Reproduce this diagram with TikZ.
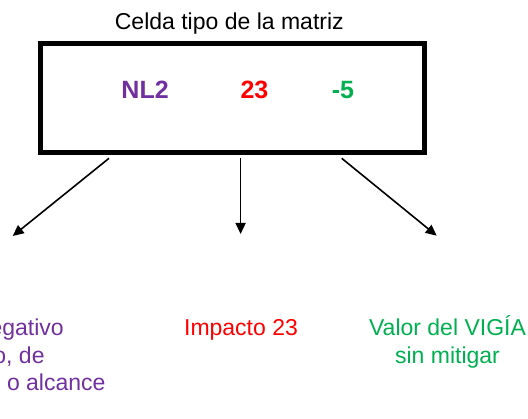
\documentclass[tikz,border=0pt]{standalone}
\usepackage{fontspec}
\setmainfont{Liberation Sans}
\usetikzlibrary{arrows.meta}
\definecolor{morado}{RGB}{112,48,160}
\definecolor{rojo}{RGB}{255,0,0}
\definecolor{verde}{RGB}{0,176,80}
\begin{document}
\begin{tikzpicture}[x=1pt, y=-1pt,
    txt/.style={font=\fontsize{23}{27.3}\selectfont, inner sep=0pt, anchor=base},
    valor/.style={font=\fontsize{25}{30}\selectfont\bfseries, inner sep=0pt, anchor=base},
    flecha/.style={line width=1.6pt, -{Triangle[length=11pt,width=10pt]}}]
    \path[use as bounding box] (0,0) rectangle (528,419);
    \clip (0,0) rectangle (528,419);
    % celda de la matriz
    \node[draw, line width=5pt, minimum width=384.5pt, minimum height=109.5pt, inner sep=0pt] (celda) at (232.25,98.25) {};
    \node[txt] (titulo) at (229.3,29.3) {Celda tipo de la matriz};
    \node[valor, text=morado] (nl) at (145.1,99) {NL2};
    \node[valor, text=rojo] (imp) at (254.5,99) {23};
    \node[valor, text=verde] (vig) at (342.9,99) {-5};
    % textos de abajo
    \node[txt, anchor=base east, text=morado] (nla) at (64,336) {egativo};
    \node[txt, anchor=base east, text=morado] (nlb) at (44.8,363.3) {o, de};
    \node[txt, anchor=base east, text=morado] (nlc) at (105.7,390.6) {o alcance};
    \node[txt, text=rojo] (impt) at (241,336) {Impacto 23};
    \node[txt, text=verde, align=center] (vigt) at (447.5,363.3) {Valor del VIGÍA\\sin mitigar};
    % flechas
    \coordinate (s1) at (109,158.3); \coordinate (e1) at (12.7,236);
    \coordinate (s2) at (240.6,158); \coordinate (e2) at (240.6,234);
    \coordinate (s3) at (341.7,158.3); \coordinate (e3) at (436.7,235.7);
    \draw[flecha] (s1) -- (e1);
    \draw[flecha] (s2) -- (e2);
    \draw[flecha] (s3) -- (e3);
\end{tikzpicture}
\end{document}
